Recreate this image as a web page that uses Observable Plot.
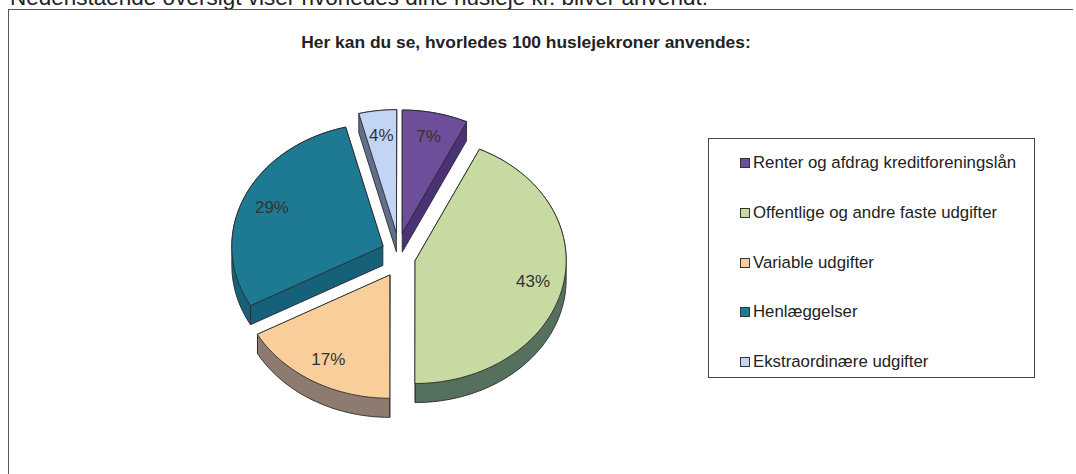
<!DOCTYPE html>
<html>
<head>
<meta charset="utf-8">
<script src="https://cdn.jsdelivr.net/npm/d3@7"></script>
<script src="https://cdn.jsdelivr.net/npm/@observablehq/plot@0.6"></script>
<style>
  html, body { margin: 0; padding: 0; background: #fff; }
  #wrap { position: relative; width: 1076px; height: 474px; overflow: hidden; font-family: "Liberation Sans", Arial, sans-serif; }
  #intro { position: absolute; left: 10px; top: -15px; font-size: 22.5px; line-height: 26px; color: #222; white-space: nowrap; }
  #frame { position: absolute; left: 8px; top: 9px; width: 1064px; height: 480px; border-top: 1.5px solid #555; border-left: 1.5px solid #555; }
  #title { position: absolute; left: 0; width: 1052px; top: 32px; text-align: center; font-size: 17.4px; font-weight: bold; color: #222; white-space: nowrap; }
  #chart { position: absolute; left: 0; top: 0; }
  #legend { position: absolute; left: 708px; top: 138px; width: 327px; height: 240px; border: 1px solid #444; box-sizing: border-box; }
  .item { position: absolute; left: 31px; font-size: 16.8px; line-height: 20px; color: #222; white-space: nowrap; display: flex; align-items: center; }
  .sw { width: 8px; height: 8px; border: 1.5px solid #333; margin-right: 3px; }
</style>
</head>
<body>
<div id="wrap">
  <div id="intro">Nedenstående oversigt viser hvorledes dine husleje kr. bliver anvendt:</div>
  <div id="frame"></div>
  <div id="title">Her kan du se, hvorledes 100 huslejekroner anvendes:</div>
  <div id="chart"></div>
  <div id="legend"></div>
</div>
<script>
// ---- data ----
const categories = [
  "Renter og afdrag kreditforeningslån",
  "Offentlige og andre faste udgifter",
  "Variable udgifter",
  "Henlæggelser",
  "Ekstraordinære udgifter"
];
const values = [7, 43, 17, 29, 4];
const topColors = ["#6C4E9A", "#C6DAA1", "#F8CF9A", "#1E7A93", "#C2D5F4"];
const sideColors = ["#4A3274", "#55705C", "#8C7B6E", "#15617A", "#60708A"];

// ---- layout (pixels) ----
const cx = 398, cy = 255, rx = 151, ry = 123;
const exX = 0.113, exY = 0.187;   // explode offset (unit radii)
const depth = 0.155;              // thickness (unit y radii)
const labelR = 0.8;

const total = d3.sum(values);
const deg = Math.PI / 180;
const slices = [];
let acc = 0;
values.forEach((v, i) => {
  const a0 = acc / total * 2 * Math.PI;
  acc += v;
  const a1 = acc / total * 2 * Math.PI;
  const mid = (a0 + a1) / 2;
  const ox = exX * Math.sin(mid), oy = exY * Math.cos(mid);
  const pts = [[ox, oy]];
  const n = Math.max(2, Math.ceil((a1 - a0) / deg));
  for (let k = 0; k <= n; k++) {
    const t = a0 + (a1 - a0) * k / n;
    pts.push([ox + Math.sin(t), oy + Math.cos(t)]);
  }
  const all = pts.concat(pts.map(([x, y]) => [x, y - depth]));
  const hull = d3.polygonHull(all);
  const edges = [];
  for (const t of [a0, a1]) {
    if (Math.cos(t) < 0.05) edges.push({x: ox + Math.sin(t), y1: oy + Math.cos(t), y2: oy + Math.cos(t) - depth});
  }
  slices.push({
    i, a0, a1, mid,
    top: pts.map(([x, y]) => ({x, y})),
    side: hull.map(([x, y]) => ({x, y})),
    edges,
    label: {x: ox + labelR * Math.sin(mid), y: oy + labelR * Math.cos(mid), text: Math.round(v / total * 100) + "%"}
  });
});

const marks = [];
for (const s of slices) {
  marks.push(Plot.line(s.side, {x: "x", y: "y", curve: "linear-closed", fill: sideColors[s.i], stroke: "#2a2a2a", strokeWidth: 0.9, strokeLinejoin: "round"}));
  if (s.edges.length) marks.push(Plot.link(s.edges, {x1: "x", x2: "x", y1: "y1", y2: "y2", stroke: "#2a2a2a", strokeWidth: 0.8}));
  marks.push(Plot.line(s.top, {x: "x", y: "y", curve: "linear-closed", fill: topColors[s.i], stroke: "#2a2a2a", strokeWidth: 0.9, strokeLinejoin: "round"}));
}
marks.push(Plot.text(slices.map(s => s.label), {x: "x", y: "y", text: "text", fontSize: 17, fill: "#333", fontFamily: "Liberation Sans, Arial, sans-serif"}));

const chart = Plot.plot({
  width: 1076,
  height: 474,
  margin: 0,
  x: {domain: [-1, 1], range: [cx - rx, cx + rx], axis: null},
  y: {domain: [-1, 1], range: [cy + ry, cy - ry], axis: null},
  style: {background: "transparent", overflow: "visible"},
  marks
});
document.getElementById("chart").appendChild(chart);

// ---- legend ----
const legend = document.getElementById("legend");
categories.forEach((c, i) => {
  const d = document.createElement("div");
  d.className = "item";
  d.style.top = (14 + i * 49.75) + "px";
  const sw = document.createElement("span");
  sw.className = "sw";
  sw.style.background = topColors[i];
  d.appendChild(sw);
  d.appendChild(document.createTextNode(c));
  legend.appendChild(d);
});
</script>
</body>
</html>
